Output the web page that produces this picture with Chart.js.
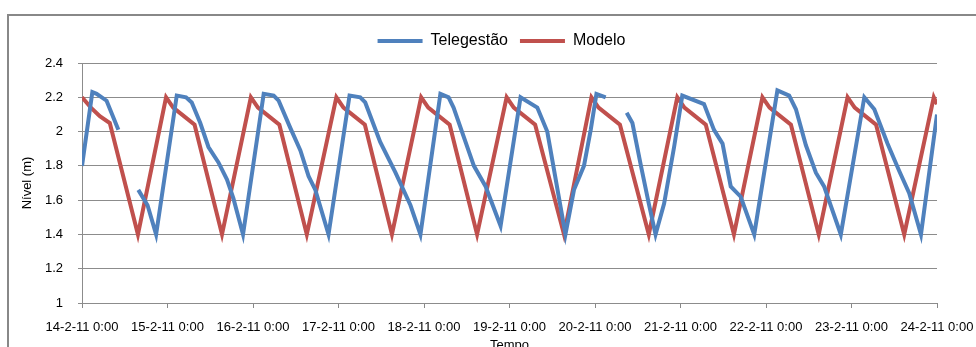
<!DOCTYPE html>
<html>
<head>
<meta charset="utf-8">
<script src="https://cdn.jsdelivr.net/npm/chart.js@4.4.0/dist/chart.umd.min.js"></script>
<style>
  html, body { margin: 0; padding: 0; background: #fff; overflow: hidden; }
  #wrap { position: relative; width: 976px; height: 347px; }
  #frame { position: absolute; left: 7px; top: 14px; width: 1000px; height: 400px;
           border-left: 2px solid #888; border-top: 2px solid #888; }
  canvas { position: absolute; left: 0; top: 0; }
</style>
</head>
<body>
<div id="wrap">
  <div id="frame"></div>
  <canvas id="chart" width="976" height="347"></canvas>
</div>
<script>
// eixo x em horas desde 14-2-11 0:00
const xTickLabels = ['14-2-11 0:00', '15-2-11 0:00', '16-2-11 0:00', '17-2-11 0:00', '18-2-11 0:00',
    '19-2-11 0:00', '20-2-11 0:00', '21-2-11 0:00', '22-2-11 0:00', '23-2-11 0:00', '24-2-11 0:00'];

// Telegestão (medido) - null = falha de dados
const teleHoras = [0, 2.9, 4.1, 6.9, 10.2, 13.0, 15.8, 18.4, 20.8, 26.6, 29.2, 30.8, 33.2, 35.5, 38.3, 40.7, 42.5, 45.2,
    51.0, 53.8, 55.2, 58.5, 61.3, 63.6, 65.5, 69.2, 75.1, 78.1, 79.5, 83.7, 88.0, 92.2, 95.0,
    100.6, 102.9, 104.3, 110.0, 113.3, 117.5, 123.1, 127.8, 130.6, 135.7, 138.1, 140.9, 142.8, 144.4, 147.0,
    150.0, 152.9, 154.5, 156.8, 159.1, 161.0, 163.4, 166.2, 168.5, 174.6, 177.4, 179.8, 182.1, 184.9, 188.7,
    195.2, 198.5, 200.4, 203.2, 206.0, 208.3, 213.0, 219.6, 222.4, 226.1, 229.4, 232.2, 235.5, 240];
const teleNivel = [1.80, 2.23, 2.22, 2.18, 2.01, null, 1.66, 1.57, 1.40, 2.21, 2.20, 2.17, 2.05, 1.91, 1.82, 1.72, 1.61, 1.40,
    2.22, 2.21, 2.18, 2.02, 1.89, 1.74, 1.66, 1.40, 2.21, 2.20, 2.17, 1.94, 1.76, 1.57, 1.40,
    2.22, 2.20, 2.14, 1.80, 1.68, 1.45, 2.20, 2.14, 2.00, 1.40, 1.66, 1.80, 2.01, 2.22, 2.20,
    null, 2.11, 2.05, 1.81, 1.58, 1.40, 1.58, 1.91, 2.21, 2.16, 2.01, 1.93, 1.68, 1.62, 1.40,
    2.24, 2.21, 2.13, 1.92, 1.76, 1.68, 1.40, 2.20, 2.13, 1.93, 1.77, 1.64, 1.40, 2.10];

// Modelo (simulado)
const modeloHoras = [0, 2.5, 5.0, 7.8, 15.7, 23.6, 25.6, 28.6, 31.6, 39.3, 47.4, 49.4, 52.4, 55.4, 63.1,
    71.4, 73.4, 76.4, 79.4, 87.0, 95.2, 97.2, 100.2, 103.2, 110.9, 119.2, 121.2, 124.2, 127.2, 135.3,
    143.0, 145.0, 148.0, 151.0, 159.1, 167.1, 169.1, 172.1, 175.1, 183.0, 191.0, 193.0, 196.0, 199.0, 206.8,
    214.9, 216.9, 219.9, 222.9, 230.8, 239.1, 240];
const modeloNivel = [2.20, 2.14, 2.09, 2.05, 1.40, 2.20, 2.14, 2.09, 2.04, 1.40, 2.20, 2.14, 2.09, 2.04, 1.40,
    2.20, 2.14, 2.09, 2.04, 1.40, 2.20, 2.14, 2.09, 2.04, 1.40, 2.20, 2.14, 2.09, 2.04, 1.40,
    2.20, 2.14, 2.09, 2.04, 1.40, 2.20, 2.14, 2.09, 2.04, 1.40, 2.20, 2.14, 2.09, 2.04, 1.40,
    2.20, 2.14, 2.09, 2.04, 1.40, 2.20, 2.16];

function pares(xs, ys) {
    return xs.map((x, i) => ({ x: x, y: ys[i] }));
}

const fonte = { family: 'Liberation Sans, Arial, sans-serif', size: 13 };
const fonteLegenda = { family: 'Liberation Sans, Arial, sans-serif', size: 16 };

// desloca a legenda para o centro da área do gráfico (como no Excel)
const moverLegenda = {
    id: 'moverLegenda',
    afterLayout(chart) {
        const lg = chart.legend;
        const dx = 33, dy = -4;
        lg.left += dx; lg.right += dx;
        lg.top += dy; lg.bottom += dy;
    }
};

const ctx = document.getElementById('chart').getContext('2d');
const chart = new Chart(ctx, {
    type: 'line',
    data: {
        datasets: [
            {
                label: 'Telegestão',
                data: pares(teleHoras, teleNivel),
                borderColor: '#4F81BD',
                backgroundColor: '#4F81BD',
                borderWidth: 4,
                pointRadius: 0,
                spanGaps: false,
                tension: 0,
                fill: false
            },
            {
                label: 'Modelo',
                data: pares(modeloHoras, modeloNivel),
                borderColor: '#C0504D',
                backgroundColor: '#C0504D',
                borderWidth: 4,
                pointRadius: 0,
                tension: 0,
                fill: false
            }
        ]
    },
    plugins: [moverLegenda],
    options: {
        responsive: false,
        animation: false,
        layout: { padding: { left: 0, right: 39, top: 25, bottom: 0 } },
        scales: {
            x: {
                type: 'linear',
                min: 0,
                max: 240,
                afterFit: s => { s.height = 44; s.paddingLeft = 0; s.paddingRight = 0; },
                afterBuildTicks: s => { s.ticks = xTickLabels.map((t, i) => ({ value: i * 24 })); },
                ticks: {
                    color: '#000',
                    font: fonte,
                    padding: 12,
                    maxRotation: 0,
                    autoSkip: false,
                    callback: (v) => xTickLabels[Math.round(v / 24)]
                },
                grid: { drawOnChartArea: false, tickLength: 5, color: '#888' },
                border: { display: false },
                title: { display: true, text: 'Tempo', color: '#000', font: fonte, padding: { top: 0, bottom: -6 } }
            },
            y: {
                min: 1,
                max: 2.4,
                afterFit: s => { s.width = 82; s.paddingTop = 0; s.paddingBottom = 0; },
                ticks: {
                    stepSize: 0.2,
                    color: '#000',
                    font: fonte,
                    padding: 15,
                    callback: (v) => String(Number(v.toFixed(1)))
                },
                grid: { color: '#8c8c8c', tickLength: 4 },
                border: { color: '#8c8c8c' },
                title: { display: true, text: 'Nível (m)', color: '#000', font: fonte, padding: { top: 20, bottom: 0 } }
            }
        },
        plugins: {
            tooltip: { enabled: false },
            legend: {
                position: 'top',
                labels: {
                    color: '#000',
                    font: fonteLegenda,
                    usePointStyle: true,
                    pointStyle: 'line',
                    pointStyleWidth: 45,
                    padding: 12
                }
            }
        }
    }
});
</script>
</body>
</html>
